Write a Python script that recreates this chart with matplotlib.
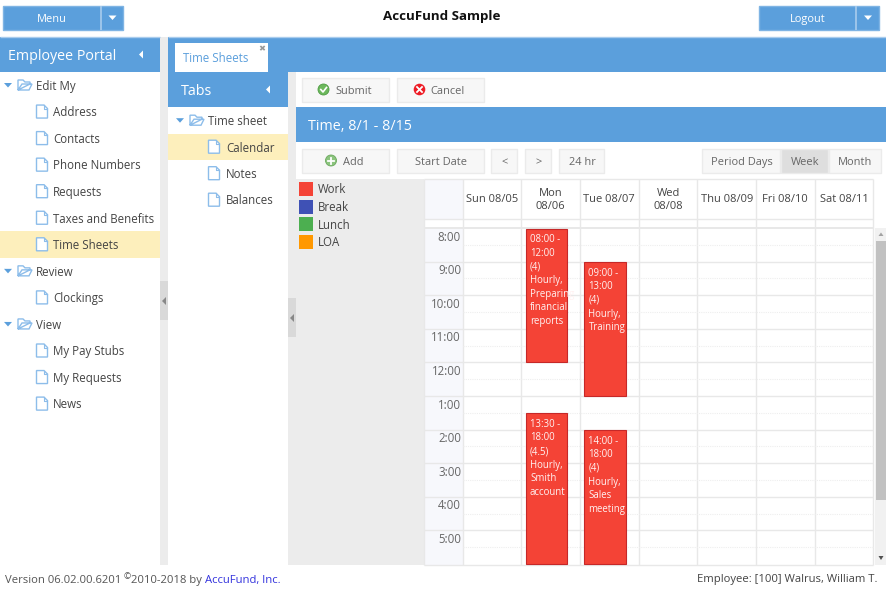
#!/usr/bin/env python3
"""Employee portal time sheet screen, calendar week view"""

import matplotlib
matplotlib.use('Agg')
import matplotlib.pyplot as plt
from matplotlib.patches import Rectangle, Polygon, Circle

plt.rcParams['font.family'] = ['Open Sans', 'DejaVu Sans']

# Colores
BLUE = '#5b9fdc'
BLUE_EDGE = '#7fb4e4'
ICON = '#8dbdea'
SELECTED = '#fdefbc'
GRAY = '#ececec'
TEXT = '#444444'
BTN_TEXT = '#666666'
GRID = '#e8e8e8'
RED = '#f44336'

# Datos
portal_tree = ['Edit My', 'Address', 'Contacts', 'Phone Numbers', 'Requests',
               'Taxes and Benefits', 'Time Sheets', 'Review', 'Clockings',
               'View', 'My Pay Stubs', 'My Requests', 'News']
portal_folder = [True, False, False, False, False, False, False, True, False,
                 True, False, False, False]
tab_tree = ['Time sheet', 'Calendar', 'Notes', 'Balances']
tab_folder = [True, False, False, False]
legend_labels = ['Work', 'Break', 'Lunch', 'LOA']
legend_colors = ['#f44336', '#3f51b5', '#4caf50', '#ff9800']
day_labels = ['Sun 08/05', 'Mon\n08/06', 'Tue 08/07', 'Wed\n08/08',
              'Thu 08/09', 'Fri 08/10', 'Sat 08/11']
hour_labels = ['8:00', '9:00', '10:00', '11:00', '12:00', '1:00', '2:00',
               '3:00', '4:00', '5:00']
first_hour = 8
event_day = [1, 2, 1, 2]
event_start = [8, 9, 13.5, 14]
event_end = [12, 13, 18, 18]
event_text = ['08:00 -\n12:00\n(4)\nHourly,\nPreparing\nfinancial\nreports',
              '09:00 -\n13:00\n(4)\nHourly,\nTraining',
              '13:30 -\n18:00\n(4.5)\nHourly,\nSmith\naccount',
              '14:00 -\n18:00\n(4)\nHourly,\nSales\nmeeting']

fig = plt.figure(figsize=(8.87, 5.90), dpi=100)
ax = fig.add_axes([0, 0, 1, 1])
ax.set_xlim(0, 887)
ax.set_ylim(590, 0)
ax.axis('off')


def rect(x0, y0, x1, y1, color, edge='none', lw=0.8, z=1):
    p = Rectangle((x0, y0), x1 - x0, y1 - y0, facecolor=color, edgecolor=edge,
                  linewidth=lw, zorder=z)
    ax.add_patch(p)
    return p


def label(x, y, s, size=8.3, color=TEXT, ha='left', **kw):
    # el texto de Open Sans queda un poco alto con va='center'
    return ax.text(x, y + 1.3, s, fontsize=size, color=color, ha=ha, va='center',
                   zorder=6, **kw)


def hline(y, x0, x1, color=GRID, lw=1.0, ls='-', z=2):
    ax.plot([x0, x1], [y, y], color=color, lw=lw, ls=ls, zorder=z,
            solid_capstyle='butt')


def vline(x, y0, y1, color=GRID, lw=1.0, z=2):
    ax.plot([x, x], [y0, y1], color=color, lw=lw, zorder=z,
            solid_capstyle='butt')


def doc_icon(x, y):
    pts = [(x - 0.5, y - 6.5), (x + 7, y - 6.5), (x + 10.5, y - 3), (x + 10.5, y + 6.5),
           (x - 0.5, y + 6.5)]
    ax.add_patch(Polygon(pts, closed=True, facecolor='white', edgecolor=ICON,
                         linewidth=1.0, zorder=5))
    ax.plot([x + 7, x + 7, x + 10.5], [y - 6.5, y - 3, y - 3], color=ICON,
            lw=0.8, zorder=5)


def folder_icon(x, y):
    pts = [(x, y + 5), (x, y - 5), (x + 5, y - 5), (x + 7, y - 3), (x + 12, y - 3),
           (x + 12, y - 1), (x + 4, y - 1), (x, y + 5), (x + 11, y + 5), (x + 14, y - 1),
           (x + 12, y - 1)]
    ax.add_patch(Polygon(pts, closed=True, facecolor='white', edgecolor=ICON,
                         linewidth=1.0, zorder=5))


def arrow_down(x, y, color=BLUE, w=4):
    ax.add_patch(Polygon([(x - w, y - 2), (x + w, y - 2), (x, y + 2.5)], closed=True,
                         facecolor=color, edgecolor='none', zorder=5))


def arrow_left(x, y, color='white'):
    ax.add_patch(Polygon([(x + 2, y - 4), (x + 2, y + 4), (x - 2, y)], closed=True,
                         facecolor=color, edgecolor='none', zorder=5))


def button(x0, x1, y0, y1, text=None, tx=None, color='#f7f7f7'):
    rect(x0 + 0.5, y0 + 0.5, x1 - 0.5, y1 - 0.5, color, edge='#ebebeb', lw=1.0, z=3)
    if text:
        label(tx if tx else (x0 + x1) / 2, (y0 + y1) / 2 + 0.7, text, size=7.9,
              color=BTN_TEXT, ha='center')


# Barra superior
for x0, x1, div, txt in [(3, 124, 101, 'Menu'), (759, 880, 856, 'Logout')]:
    rect(x0 + 0.5, 5.5, x1 - 0.5, 30, BLUE, edge=BLUE_EDGE, lw=1.0, z=3)
    vline(div, 6, 30, color='#a9cced', lw=1.2, z=4)
    label((x0 + div) / 2, 18.3, txt, size=7.9, color='white', ha='center')
    arrow_down((div + x1) / 2, 17.5, color='white')
label(442, 15.5, 'AccuFund Sample', size=9.6, color='#111111', ha='center',
      fontweight='bold')

# Paneles
rect(0, 37, 160, 72, BLUE)
rect(168, 37, 887, 72, BLUE)
rect(168, 72, 288, 107, BLUE)
hline(36.8, 0, 160, color='#a9cced')
hline(36.8, 168, 887, color='#a9cced')
rect(160, 37, 168, 565, GRAY)
rect(160, 281, 168, 320, '#d9d9d9')
rect(288, 72, 296, 565, GRAY)
rect(288, 298, 296, 337, '#d9d9d9')
rect(168, 107, 288, 565, 'white')
arrow_left(164, 301, '#888888')
arrow_left(292, 318, '#888888')

label(8, 54.8, 'Employee Portal', size=10.3, color='white')
arrow_left(141, 54.5)
rect(175, 43, 268, 72, 'white', z=3)
label(183, 57, 'Time Sheets', size=8.3, color=BLUE)
label(262, 48, '\u2716', size=6, color='#999999', ha='center')
label(181, 89.8, 'Tabs', size=10.3, color='white')
arrow_left(268, 89.5)

# Arbol principal
for i, name in enumerate(portal_tree):
    y = 85 + i * 26.55
    if name == 'Time Sheets':
        rect(0, y - 13, 160, y + 13.5, SELECTED)
    if portal_folder[i]:
        arrow_down(8, y, w=4)
        folder_icon(18, y)
        label(36, y, name)
    else:
        doc_icon(37, y)
        label(53, y, name)

# Arbol de pestanas
for i, name in enumerate(tab_tree):
    y = 120.2 + i * 26.5
    if name == 'Calendar':
        rect(168, y - 13, 288, y + 13.3, SELECTED)
    if tab_folder[i]:
        arrow_down(180, y, w=4)
        folder_icon(190, y)
        label(208, y, name)
    else:
        doc_icon(209, y)
        label(226, y, name)

# Barra de acciones
button(302, 390, 77, 102, 'Submit', 353.5)
ax.add_patch(Circle((323.5, 89.5), 5.5, facecolor='#6cb85c', edgecolor='#4f9c43', lw=0.6, zorder=5))
ax.plot([320.8, 323, 326.5], [89.5, 92, 87.5], color='white', lw=1.2, zorder=6)
button(397, 485, 77, 102, 'Cancel', 448)
ax.add_patch(Circle((419.5, 89.5), 5.8, facecolor='#ee1c25', edgecolor='none', zorder=5))
ax.plot([417, 422], [87, 92], color='white', lw=1.3, zorder=6)
ax.plot([417, 422], [92, 87], color='white', lw=1.3, zorder=6)

rect(296, 107, 887, 142, BLUE)
label(308, 124.8, 'Time, 8/1 - 8/15', size=10.3, color='white')

button(302, 390, 148, 173, 'Add', 353.5)
ax.add_patch(Circle((331, 160.5), 5.5, facecolor='#8cc47e', edgecolor='#6aa85c', lw=0.6, zorder=5))
ax.plot([328, 334], [160.5, 160.5], color='white', lw=1.3, zorder=6)
ax.plot([331, 331], [157.5, 163.5], color='white', lw=1.3, zorder=6)
button(397, 485, 148, 173, 'Start Date')
button(491, 518, 148, 173, '<')
button(525, 552, 148, 173, '>')
button(559, 605, 148, 173, '24 hr')
button(702, 781, 148, 173, 'Period Days')
button(781, 829, 148, 173, 'Week', color='#dedede')
button(829, 882, 148, 173, 'Month')

# Leyenda
rect(296, 179, 424, 565, GRAY)
for i, name in enumerate(legend_labels):
    y = 189 + i * 17.7
    rect(299.5, y - 7, 313.5, y + 7, legend_colors[i], z=3)
    label(317.5, y - 0.5, name)

# Calendario
col_edges = [463, 521.5, 580, 638.7, 697.5, 756, 814.7, 873.5]
hour_h = 33.6
hour_top = 228


def hour_y(h):
    return hour_top + (h - first_hour) * hour_h


rect(424, 179, 873.5, 565, 'white')
rect(424, 179, 463, 219, '#f7f8fc')
rect(424, 228, 463, 565, '#f7f8fc')
hline(178.5, 424, 873.5)
hline(219, 424, 873.5)
hline(228, 424, 873.5, lw=1.4)
hline(565, 424, 873.5)
vline(424.5, 179, 565)
for x in col_edges:
    vline(x, 179, 565)
for i, day in enumerate(day_labels):
    ax.text((col_edges[i] + col_edges[i + 1]) / 2, 200, day, fontsize=8.0, color=TEXT,
            ha='center', va='center', linespacing=1.25, zorder=6)
for i, hour in enumerate(hour_labels):
    y = hour_y(first_hour + i)
    if i > 0:
        hline(y, 424, 873.5)
    hline(y + hour_h / 2, 463, 873.5, color='#eeeeee', lw=0.8, ls=(0, (1, 1)))
    label(461, y + 7.8, hour, color='#666666', ha='right')

for day, start, end, txt in zip(event_day, event_start, event_end, event_text):
    x0 = col_edges[day] + 4.5
    y0 = hour_y(start)
    y1 = min(hour_y(end), 565)
    box = rect(x0, y0 + 0.5, x0 + 41.5, y1, RED, edge='#c62828', lw=0.8, z=4)
    t = ax.text(x0 + 4, y0 + 6, txt, fontsize=6.9, color='#fff2f2', ha='left', va='top',
                linespacing=1.33, zorder=6, fontweight='medium')
    t.set_clip_path(box)

# Barra de desplazamiento
rect(875, 228, 887, 565, '#f1f1f1')
rect(876, 241, 886, 500, '#c1c1c1', z=3)
ax.add_patch(Polygon([(878.5, 236), (883.5, 236), (881, 232.5)], closed=True,
                     facecolor='#a3a3a3', edgecolor='none', zorder=4))
ax.add_patch(Polygon([(878.5, 556), (883.5, 556), (881, 560)], closed=True,
                     facecolor='#505050', edgecolor='none', zorder=4))

# Pie de pagina
label(5, 578.8, 'Version 06.02.00.6201', size=8.1, color='#555555')
label(124, 575.8, '\u00a9', size=6.2, color='#555555')
label(131.5, 578.8, '2010-2018 by', size=8.1, color='#555555')
label(205, 578.8, 'AccuFund, Inc.', size=8.1, color='#3333dd')
label(878, 577.8, 'Employee: [100] Walrus, William T.', size=8.1, color='#444444', ha='right')

plt.savefig('out.png', dpi=100, facecolor='white')
